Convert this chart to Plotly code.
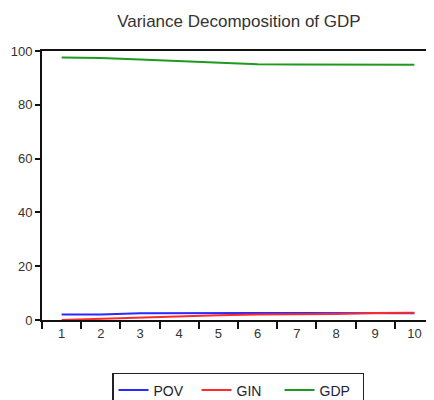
import plotly.graph_objects as go

periods = ["1", "2", "3", "4", "5", "6", "7", "8", "9", "10"]
pov = [2.0, 2.0, 2.5, 2.6, 2.6, 2.6, 2.6, 2.6, 2.5, 2.5]
gin = [0.0, 0.5, 0.8, 1.3, 1.8, 2.0, 2.1, 2.2, 2.6, 2.7]
gdp = [97.6, 97.4, 96.8, 96.2, 95.6, 95.1, 95.0, 95.0, 94.9, 94.9]

fig = go.Figure()
fig.add_trace(go.Scatter(x=periods, y=pov, name="POV", mode="lines",
                         line=dict(color="#2a2aff", width=2)))
fig.add_trace(go.Scatter(x=periods, y=gin, name="GIN", mode="lines",
                         line=dict(color="#ff2a2a", width=2)))
fig.add_trace(go.Scatter(x=periods, y=gdp, name="GDP", mode="lines",
                         line=dict(color="#1f9a1f", width=2)))

# page body has an 8px margin, so the figure is a bit smaller than the window
fig.update_layout(
    width=426, height=392,
    margin=dict(l=34, r=0, t=43, b=80, autoexpand=False),
    paper_bgcolor="white", plot_bgcolor="white",
    font=dict(family="Liberation Sans, Arial", size=13, color="#333"),
    title=dict(text="Variance Decomposition of GDP", x=0.542, xanchor="center",
               y=0.967, yanchor="middle", font=dict(size=17, color="#333")),
    showlegend=True,
    legend=dict(orientation="h", x=0.5, xanchor="center", y=-0.197, yanchor="top",
                bordercolor="#222", borderwidth=1.5, entrywidth=38,
                font=dict(size=14, color="#223")),
)
fig.update_xaxes(type="category", tickson="boundaries", ticks="outside", ticklen=7,
                 tickwidth=2, tickcolor="#111", showline=True, linecolor="#111",
                 linewidth=2, mirror=True, showgrid=False, range=[-0.5, 9.5],
                 zeroline=False, automargin=False)
fig.update_yaxes(range=[0, 100], dtick=20, ticks="outside", ticklen=5, tickwidth=2,
                 tickcolor="#111", showline=True, linecolor="#111", linewidth=2,
                 showgrid=False, zeroline=False, automargin=False)

fig.write_html("out.html")
